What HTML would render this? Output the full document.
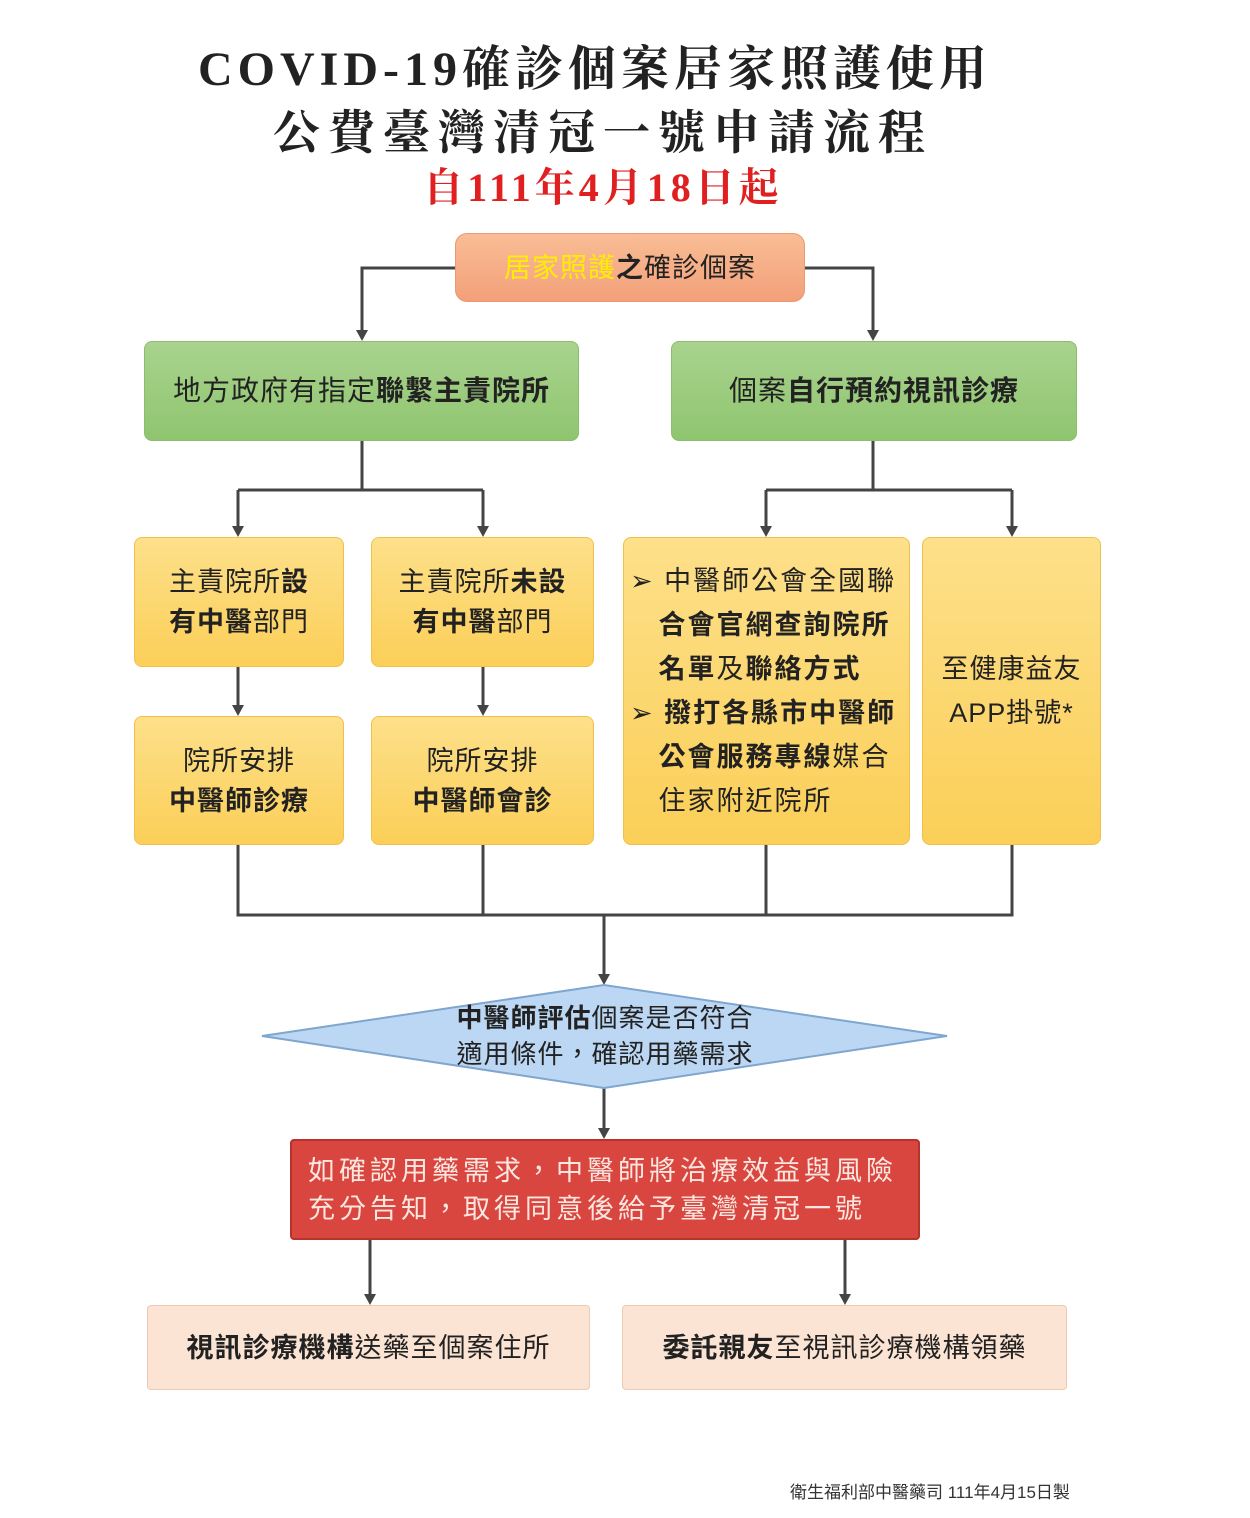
<!DOCTYPE html>
<html><head><meta charset="utf-8"><style>
body{margin:0;width:1250px;height:1518px;background:#fff;position:relative;overflow:hidden;font-family:"Liberation Sans","Noto Sans CJK TC",sans-serif;color:#222}
.t{position:absolute;left:0;width:1190px;text-align:center;font-family:"Liberation Serif","Noto Serif CJK SC",serif;font-weight:bold;white-space:nowrap}
.b{position:absolute;box-sizing:border-box;display:flex;align-items:center;justify-content:center;text-align:center;border-radius:8px;font-size:27px;line-height:40px;letter-spacing:1px}
.g{background:linear-gradient(#a9d38e,#8fc56f);border:1px solid #8cbc6e}
.y{background:linear-gradient(#fde08a,#fbcf58);border:1px solid #f1c04c}
.k{font-weight:bold}
svg{position:absolute;left:0;top:0}
</style></head><body>
<div class="t" style="top:30px;font-size:48px;letter-spacing:5px">COVID-19確診個案居家照護使用</div>
<div class="t" style="top:96px;font-size:47px;letter-spacing:8px;left:8px">公費臺灣清冠一號申請流程</div>
<div class="t" style="top:156px;font-size:40px;letter-spacing:4px;color:#e02020;left:8px">自111年4月18日起</div>
<svg width="1250" height="1518">
<g stroke="#444" stroke-width="3" fill="none">
<path d="M455,268 H362 V333"/><path d="M805,268 H873 V333"/>
<path d="M362,441 V490"/><path d="M238,490 H483"/><path d="M238,490 V529"/><path d="M483,490 V529"/>
<path d="M873,441 V490"/><path d="M766,490 H1012"/><path d="M766,490 V529"/><path d="M1012,490 V529"/>
<path d="M238,667 V708"/><path d="M483,667 V708"/>
<path d="M238,845 V915 H1012 V845"/><path d="M483,845 V915"/><path d="M766,845 V915"/>
<path d="M604,915 V977"/><path d="M604,1088 V1131"/>
<path d="M370,1240 V1297"/><path d="M845,1240 V1297"/>
</g>
<g fill="#444">
<path d="M356,330 L368,330 L362,341z"/><path d="M867,330 L879,330 L873,341z"/>
<path d="M232,526 L244,526 L238,537z"/><path d="M477,526 L489,526 L483,537z"/>
<path d="M760,526 L772,526 L766,537z"/><path d="M1006,526 L1018,526 L1012,537z"/>
<path d="M232,705 L244,705 L238,716z"/><path d="M477,705 L489,705 L483,716z"/>
<path d="M598,974 L610,974 L604,985z"/><path d="M598,1128 L610,1128 L604,1139z"/>
<path d="M364,1294 L376,1294 L370,1305z"/><path d="M839,1294 L851,1294 L845,1305z"/>
</g>
<polygon points="604,985 947,1036 604,1088 262,1036" fill="#bcd7f3" stroke="#7fa6cf" stroke-width="2"/>
</svg>
<div class="b" style="left:455px;top:233px;width:350px;height:69px;background:linear-gradient(#f9bd95,#f3a07a);border:1px solid #e89a72;border-radius:12px;font-size:27px"><span><span style="color:#ffee00">居家照護</span><span class="k">之</span>確診個案</span></div>
<div class="b g" style="left:144px;top:341px;width:435px;height:100px;font-size:28px">地方政府有指定<span class="k">聯繫主責院所</span></div>
<div class="b g" style="left:671px;top:341px;width:406px;height:100px;font-size:28px">個案<span class="k">自行預約視訊診療</span></div>
<div class="b y" style="left:134px;top:537px;width:210px;height:130px"><span>主責院所<span class="k">設</span><br><span class="k">有中醫</span>部門</span></div>
<div class="b y" style="left:371px;top:537px;width:223px;height:130px"><span>主責院所<span class="k">未設</span><br><span class="k">有中醫</span>部門</span></div>
<div class="b y" style="left:134px;top:716px;width:210px;height:129px"><span>院所安排<br><span class="k">中醫師診療</span></span></div>
<div class="b y" style="left:371px;top:716px;width:223px;height:129px"><span>院所安排<br><span class="k">中醫師會診</span></span></div>
<div class="b y" style="left:623px;top:537px;width:287px;height:308px;justify-content:flex-start;text-align:left;line-height:44px;letter-spacing:2px"><div style="padding-left:6px">➢ 中醫師公會全國聯<br>&nbsp;&nbsp;&nbsp;<span class="k">合會官網查詢院所</span><br>&nbsp;&nbsp;&nbsp;<span class="k">名單</span>及<span class="k">聯絡方式</span><br>➢ <span class="k">撥打各縣市中醫師</span><br>&nbsp;&nbsp;&nbsp;<span class="k">公會服務專線</span>媒合<br>&nbsp;&nbsp;&nbsp;住家附近院所</div></div>
<div class="b y" style="left:922px;top:537px;width:179px;height:308px;line-height:44px"><span>至健康益友<br>APP掛號*</span></div>
<div style="position:absolute;left:420px;top:1000px;width:370px;text-align:center;font-size:26px;line-height:36px;letter-spacing:1px"><span class="k">中醫師評估</span>個案是否符合<br>適用條件，確認用藥需求</div>
<div class="b" style="left:290px;top:1139px;width:630px;height:101px;background:#d9463f;border:2px solid #b8322c;border-radius:4px;color:#fbe6e0;justify-content:flex-start;text-align:left;padding-left:16px;font-size:27px;line-height:38px;letter-spacing:4px"><span>如確認用藥需求，中醫師將治療效益與風險<br>充分告知，取得同意後給予臺灣清冠一號</span></div>
<div class="b" style="left:147px;top:1305px;width:443px;height:85px;background:#fce4d4;border:1px solid #efc9b0;border-radius:4px"><span><span class="k">視訊診療機構</span>送藥至個案住所</span></div>
<div class="b" style="left:622px;top:1305px;width:445px;height:85px;background:#fce4d4;border:1px solid #efc9b0;border-radius:4px"><span><span class="k">委託親友</span>至視訊診療機構領藥</span></div>
<div style="position:absolute;left:790px;top:1478px;font-size:17px;color:#333;white-space:nowrap">衛生福利部中醫藥司 111年4月15日製</div>
</body></html>
